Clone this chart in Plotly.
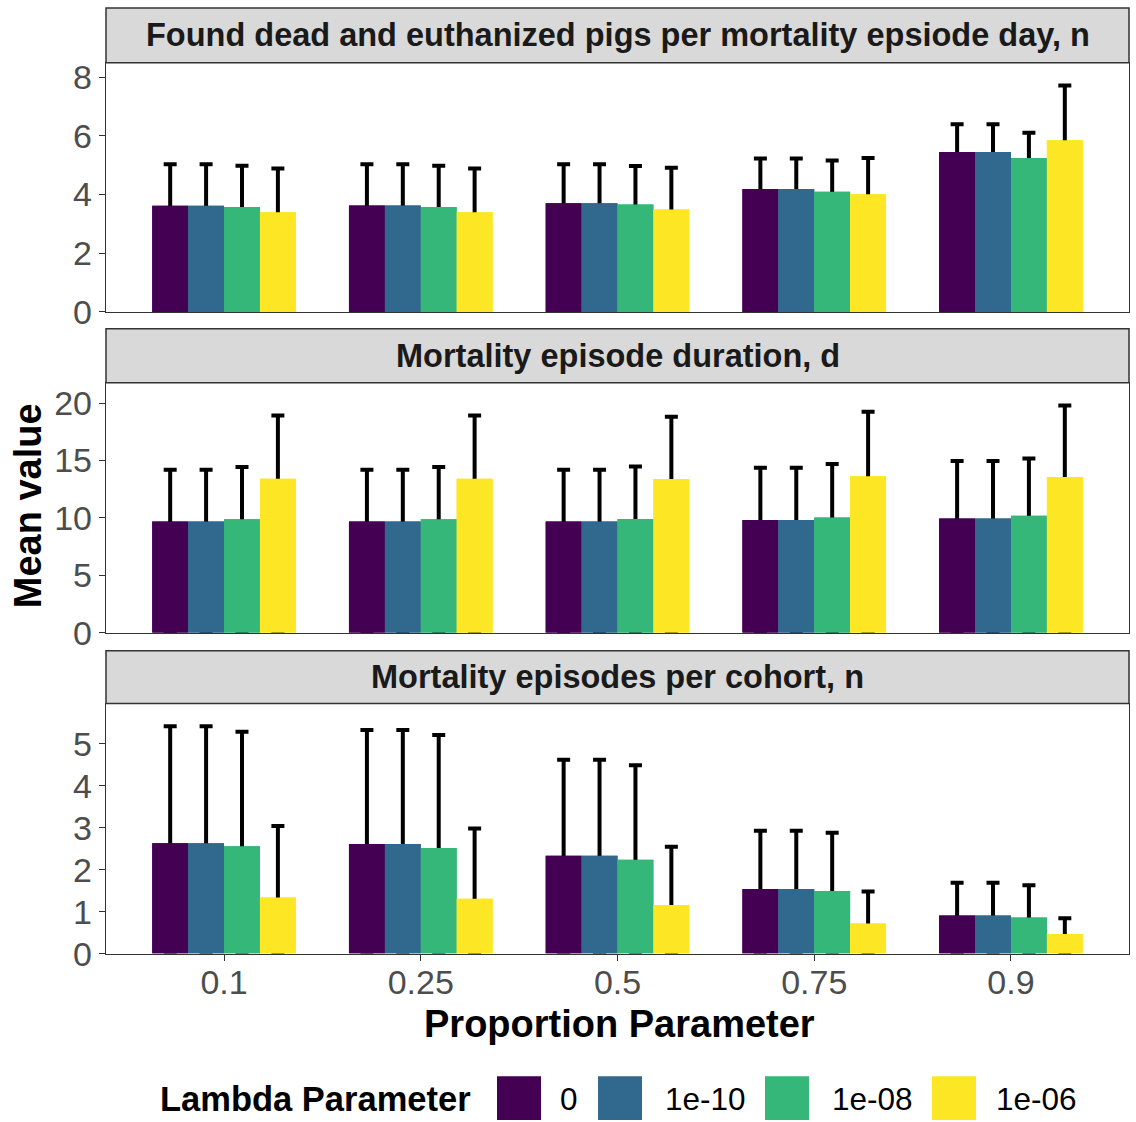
import plotly.graph_objects as go

# ---- data -------------------------------------------------------------
proportions = ["0.1", "0.25", "0.5", "0.75", "0.9"]
lambdas = ["0", "1e-10", "1e-08", "1e-06"]
colors = ["#440154", "#31688E", "#35B779", "#FDE725"]

panel_titles = [
    "Found dead and euthanized pigs per mortality epsiode day, n",
    "Mortality episode duration, d",
    "Mortality episodes per cohort, n",
]

# Found dead and euthanized pigs per mortality episode day (mean, sd)
dead_mean_l0 = [3.62, 3.63, 3.70, 4.19, 5.45]
dead_mean_l10 = [3.62, 3.63, 3.70, 4.19, 5.45]
dead_mean_l8 = [3.58, 3.58, 3.66, 4.10, 5.25]
dead_mean_l6 = [3.40, 3.40, 3.49, 4.01, 5.85]
dead_sd_l0 = [1.41, 1.40, 1.33, 1.04, 0.95]
dead_sd_l10 = [1.41, 1.40, 1.33, 1.04, 0.95]
dead_sd_l8 = [1.40, 1.40, 1.31, 1.06, 0.86]
dead_sd_l6 = [1.49, 1.49, 1.42, 1.24, 1.87]

# Mortality episode duration (mean, sd)
dur_mean_l0 = [9.69, 9.69, 9.69, 9.83, 9.95]
dur_mean_l10 = [9.69, 9.69, 9.69, 9.83, 9.95]
dur_mean_l8 = [9.89, 9.89, 9.90, 10.03, 10.18]
dur_mean_l6 = [13.42, 13.42, 13.40, 13.62, 13.56]
dur_sd_l0 = [4.51, 4.51, 4.51, 4.54, 5.00]
dur_sd_l10 = [4.51, 4.51, 4.51, 4.54, 5.00]
dur_sd_l8 = [4.54, 4.54, 4.58, 4.66, 5.00]
dur_sd_l6 = [5.49, 5.49, 5.42, 5.63, 6.24]

# Mortality episodes per cohort (mean, sd)
ep_mean_l0 = [2.63, 2.61, 2.33, 1.54, 0.91]
ep_mean_l10 = [2.63, 2.61, 2.33, 1.54, 0.91]
ep_mean_l8 = [2.56, 2.52, 2.24, 1.49, 0.86]
ep_mean_l6 = [1.34, 1.31, 1.16, 0.72, 0.47]
ep_sd_l0 = [2.79, 2.72, 2.29, 1.39, 0.78]
ep_sd_l10 = [2.79, 2.72, 2.29, 1.39, 0.78]
ep_sd_l8 = [2.73, 2.69, 2.25, 1.39, 0.77]
ep_sd_l6 = [1.70, 1.67, 1.39, 0.76, 0.37]

y_ticks = [[0, 2, 4, 6, 8], [0, 5, 10, 15, 20], [0, 1, 2, 3, 4, 5]]

panels = [
    ([dead_mean_l0, dead_mean_l10, dead_mean_l8, dead_mean_l6],
     [dead_sd_l0, dead_sd_l10, dead_sd_l8, dead_sd_l6]),
    ([dur_mean_l0, dur_mean_l10, dur_mean_l8, dur_mean_l6],
     [dur_sd_l0, dur_sd_l10, dur_sd_l8, dur_sd_l6]),
    ([ep_mean_l0, ep_mean_l10, ep_mean_l8, ep_mean_l6],
     [ep_sd_l0, ep_sd_l10, ep_sd_l8, ep_sd_l6]),
]

# ---- page geometry (pixels) --------------------------------------------
W, H = 1136, 1122
FONT = "Liberation Sans"
LEFT, RIGHT = 106, 1129
# (strip top, strip bottom / plot top, plot bottom)
panel_px = [(6, 61, 311), (328, 382, 633), (651, 704, 955)]
# vertical scale/offset of the rendered page relative to the layout height
V_SCALE, V_OFF = 0.983, 2.0


def fx(px):
    return px / W


def fy(px):
    return 1 - ((px - V_OFF) / V_SCALE) / H


fig = go.Figure()
shapes = []
annotations = []

for p, (means, sds) in enumerate(panels):
    sfx = "" if p == 0 else str(p + 1)
    xref, yref = "x" + sfx, "y" + sfx
    # bars carrying the upper error bars (lower arm runs down to the baseline)
    for k, lam in enumerate(lambdas):
        fig.add_trace(go.Bar(
            x=proportions, y=means[k], name=lam, offsetgroup=str(k),
            marker=dict(color=colors[k], line=dict(width=0)),
            error_y=dict(type="data", symmetric=False, array=sds[k],
                         arrayminus=means[k], color="black",
                         thickness=4, width=6.5),
            xaxis=xref, yaxis=yref, showlegend=False,
        ))
    # same bars drawn again on top so only the upper arm stays visible
    for k, lam in enumerate(lambdas):
        fig.add_trace(go.Bar(
            x=proportions, y=means[k], name=lam, offsetgroup=str(k),
            marker=dict(color=colors[k], line=dict(width=0)),
            xaxis=xref, yaxis=yref, showlegend=False, hoverinfo="skip",
        ))

    top = max(m + s for mm, ss in zip(means, sds) for m, s in zip(mm, ss))
    st, pt, pb = panel_px[p]
    bottom = p == 2
    fig.update_layout(**{
        "xaxis" + sfx: dict(
            domain=[fx(LEFT), fx(RIGHT)], anchor=yref,
            type="category", range=[-0.6, len(proportions) - 0.4],
            showline=True, mirror=True, linecolor="#333333", linewidth=1.4,
            showgrid=False, zeroline=False,
            ticks="outside" if bottom else "", ticklen=6, tickwidth=1.4,
            tickcolor="#333333", showticklabels=bottom,
            ticklabelstandoff=-8,
            tickfont=dict(family=FONT, size=34, color="#4D4D4D"),
            matches=None if p == 0 else "x",
        ),
        "yaxis" + sfx: dict(
            domain=[fy(pb), fy(pt)], anchor=xref,
            range=[0, top * 1.1], tickvals=y_ticks[p],
            showline=True, mirror=True, linecolor="#333333", linewidth=1.4,
            showgrid=False, zeroline=False,
            ticks="outside", ticklen=6, tickwidth=1.4, tickcolor="#333333",
            tickfont=dict(family=FONT, size=34, color="#4D4D4D"),
        ),
    })

    # facet strip
    shapes.append(dict(type="rect", xref="paper", yref="paper",
                       x0=fx(LEFT), x1=fx(RIGHT), y0=fy(pt), y1=fy(st),
                       fillcolor="#D9D9D9", line=dict(color="#333333", width=1.5),
                       layer="below"))
    annotations.append(dict(text=panel_titles[p], xref="paper", yref="paper",
                            x=fx((LEFT + RIGHT) / 2), y=fy((st + pt) / 2),
                            xanchor="center", yanchor="middle", showarrow=False,
                            font=dict(family=FONT, size=32.5, color="#1A1A1A",
                                      weight="bold")))

# axis titles
annotations.append(dict(text="Proportion Parameter", xref="paper", yref="paper",
                        x=fx(619), y=fy(1026), xanchor="center",
                        yanchor="middle", showarrow=False,
                        font=dict(family=FONT, size=38, color="black",
                                  weight="bold")))
annotations.append(dict(text="Mean value", xref="paper", yref="paper",
                        x=fx(28), y=fy(506), xanchor="center", yanchor="middle",
                        textangle=-90, showarrow=False,
                        font=dict(family=FONT, size=38, color="black",
                                  weight="bold")))

# legend drawn at the bottom: title, colour keys and labels
annotations.append(dict(text="Lambda Parameter", xref="paper", yref="paper",
                        x=fx(473), y=fy(1101), xanchor="right", yanchor="middle",
                        showarrow=False,
                        font=dict(family=FONT, size=34.5, color="black",
                                  weight="bold")))
key_left = [497, 598, 765, 932]
label_left = [558, 663, 830, 994]
for k, lam in enumerate(lambdas):
    shapes.append(dict(type="rect", xref="paper", yref="paper",
                       x0=fx(key_left[k]), x1=fx(key_left[k] + 44),
                       y0=fy(1122), y1=fy(1078),
                       fillcolor=colors[k], line=dict(width=0)))
    annotations.append(dict(text=lam, xref="paper", yref="paper",
                            x=fx(label_left[k]), y=fy(1101), xanchor="left",
                            yanchor="middle", showarrow=False,
                            font=dict(family=FONT, size=31.5, color="black")))

fig.update_layout(
    width=W, height=H, margin=dict(l=0, r=0, t=0, b=0),
    paper_bgcolor="white", plot_bgcolor="white",
    barmode="group", bargap=0.27, bargroupgap=0,
    shapes=shapes, annotations=annotations, showlegend=False,
    font=dict(family=FONT),
)

fig.write_html("out.html")
